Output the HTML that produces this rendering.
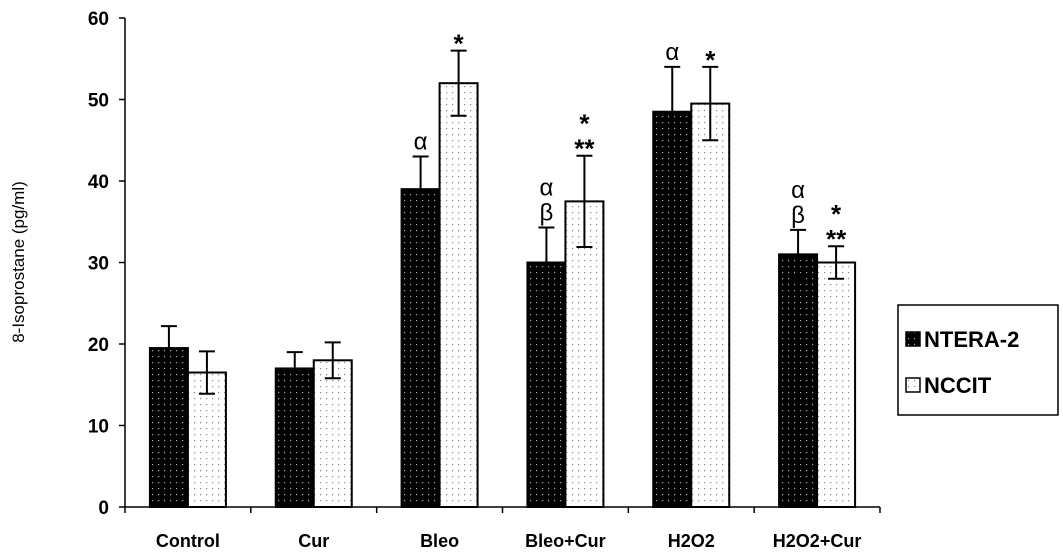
<!DOCTYPE html>
<html><head><meta charset="utf-8"><style>
body{margin:0;background:#fff;}
svg{display:block;font-family:"Liberation Sans",Arial,sans-serif;}
</style></head><body>
<svg id="chart" width="1063" height="554">
<defs>
<pattern id="pd" width="6" height="6" patternUnits="userSpaceOnUse"><rect width="6" height="6" fill="#000"/><rect x="2" y="2" width="1.2" height="1.2" fill="#aaa"/></pattern>
<pattern id="pl" width="6" height="6" patternUnits="userSpaceOnUse"><rect width="6" height="6" fill="#fff"/><rect x="2" y="2" width="1.2" height="1.2" fill="#888"/></pattern>
</defs>
<g id="g"></g>
</svg>
<script>
const categories=["Control","Cur","Bleo","Bleo+Cur","H2O2","H2O2+Cur"];
const ntera=[19.5,17,39,30,48.5,31];
const nccit=[16.5,18,52,37.5,49.5,30];
const nteraErr=[2.7,2,4,4.3,5.5,3];
const nccitErr=[2.6,2.2,4,5.6,4.5,2];
const nteraMarks=["","","α","α\nβ","α","α\nβ"];
const nccitMarks=["","","*","*\n**","*","*\n**"];
const yTicks=[0,10,20,30,40,50,60];
const NS="http://www.w3.org/2000/svg";
const g=document.getElementById('g');
const x0=125,x1=880,y0=507,yTop=18;
const y=v=>y0-(v/60)*(y0-yTop);
const cw=(x1-x0)/categories.length;
function el(t,a,p){const e=document.createElementNS(NS,t);for(const k in a)e.setAttribute(k,a[k]);(p||g).appendChild(e);return e;}
let e;
e=el('line',{x1:x0,y1:yTop,x2:x0,y2:y0,stroke:'#000','stroke-width':1.5});


e=el('line',{x1:x0,y1:y0,x2:x1,y2:y0,stroke:'#000','stroke-width':1.5});


yTicks.forEach(t=>{
 el('line',{x1:x0-6,y1:y(t),x2:x0,y2:y(t),stroke:'#000','stroke-width':1.5});
 e=el('text',{x:x0-16,y:y(t)+7,'text-anchor':'end','font-size':19,'font-weight':'bold'});e.textContent=t;
 
 
});
for(let i=0;i<=categories.length;i++)el('line',{x1:x0+i*cw,y1:y0,x2:x0+i*cw,y2:y0+6,stroke:'#000','stroke-width':1.5});
const bw=38;
function marks(txt,cx,top){
 const lines=txt.split("\n");
 lines.forEach((l,j)=>{
  const isStar=l.includes('*');
  e=el('text',{x:cx,y:top-7-(lines.length-1-j)*25+(isStar?9:0),'text-anchor':'middle','font-size':isStar?26:24,'font-weight':isStar?'bold':'normal'});
  e.textContent=l;
  
  
 });
}
categories.forEach((c,i)=>{
 const cx=x0+cw*(i+0.5);
 [[ntera,nteraErr,'url(#pd)',cx-bw,nteraMarks,'bar-ntera2'],[nccit,nccitErr,'url(#pl)',cx,nccitMarks,'bar-nccit']].forEach(([vals,err,fill,bx,mk,nm])=>{
  const v=vals[i];
  e=el('rect',{x:bx,y:y(v),width:bw,height:y0-y(v),fill:fill,stroke:'#000','stroke-width':2});
  
  
  const ex=bx+bw/2,hi=y(v+err[i]),lo=y(v-err[i]);
  el('line',{x1:ex,y1:hi,x2:ex,y2:lo,stroke:'#000','stroke-width':2});
  el('line',{x1:ex-8,y1:hi,x2:ex+8,y2:hi,stroke:'#000','stroke-width':2});
  el('line',{x1:ex-8,y1:lo,x2:ex+8,y2:lo,stroke:'#000','stroke-width':2});
  if(mk[i])marks(mk[i],ex,hi);
 });
 e=el('text',{x:cx,y:547,'text-anchor':'middle','font-size':18,'font-weight':'bold'});e.textContent=c;
 
 
});
e=el('text',{x:24,y:262,'text-anchor':'middle','font-size':17,transform:'rotate(-90 24 262)'});e.textContent='8-Isoprostane (pg/ml)';


const lg=el('g',{});


el('rect',{x:898,y:305,width:160,height:110,fill:'#fff',stroke:'#000','stroke-width':1.5},lg);
[['url(#pd)','NTERA-2',340],['url(#pl)','NCCIT',386]].forEach(([f,t,yy])=>{
 el('rect',{x:906,y:yy-8,width:14,height:14,fill:f,stroke:'#000','stroke-width':1.5},lg);
 e=el('text',{x:924,y:yy+7,'font-size':22,'font-weight':'bold'},lg);e.textContent=t;
 
 
});
</script>
</body></html>
